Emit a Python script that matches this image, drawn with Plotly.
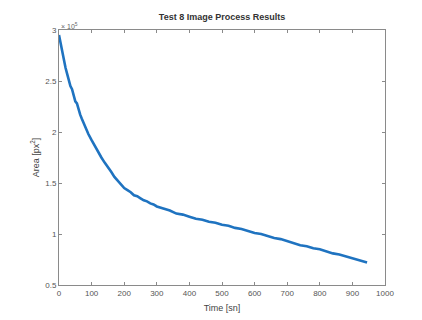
import plotly.graph_objects as go

time_s = [0, 5, 10, 15, 20, 25, 30, 35, 40, 45, 50, 55, 60, 65, 70, 75, 80, 90, 100,
          110, 120, 130, 140, 150, 160, 170, 180, 190, 200, 210, 220, 230, 240, 250,
          260, 270, 280, 290, 300, 320, 340, 360, 380, 400, 420, 440, 460, 480, 500,
          520, 540, 560, 580, 600, 620, 640, 660, 680, 700, 720, 740, 760, 780, 800,
          820, 840, 860, 880, 900, 920, 945]
area_e5 = [2.95, 2.86, 2.78, 2.70, 2.63, 2.57, 2.50, 2.45, 2.42, 2.36, 2.30, 2.28, 2.22,
           2.17, 2.13, 2.09, 2.05, 1.98, 1.92, 1.86, 1.81, 1.75, 1.70, 1.66, 1.61, 1.56,
           1.52, 1.49, 1.45, 1.43, 1.41, 1.38, 1.37, 1.35, 1.33, 1.32, 1.30, 1.29, 1.27,
           1.25, 1.23, 1.20, 1.19, 1.17, 1.15, 1.14, 1.12, 1.11, 1.09, 1.08, 1.06, 1.05,
           1.03, 1.01, 1.00, 0.98, 0.96, 0.95, 0.93, 0.91, 0.89, 0.88, 0.86, 0.85, 0.83,
           0.81, 0.80, 0.78, 0.76, 0.74, 0.72]

x_ticks = [0, 100, 200, 300, 400, 500, 600, 700, 800, 900, 1000]
y_ticks = [0.5, 1, 1.5, 2, 2.5, 3]
y_tick_labels = ["0.5", "1", "1.5", "2", "2.5", "3"]

font = "Liberation Sans, Arial, sans-serif"
fig = go.Figure()
fig.add_trace(go.Scatter(x=time_s, y=area_e5, mode="lines",
                         line=dict(color="#1f73c0", width=2.6), showlegend=False))

axis_common = dict(showline=True, linecolor="#8a8a8a", linewidth=1, mirror="ticks",
                   ticks="inside", ticklen=3, tickcolor="#8a8a8a", showgrid=False,
                   zeroline=False, automargin=False,
                   tickfont=dict(family=font, size=8, color="#555"))
fig.update_xaxes(range=[0, 1000], tickvals=x_ticks, **axis_common,
                 title=dict(text="Time [sn]", font=dict(family=font, size=9, color="#444"),
                            standoff=8))
fig.update_yaxes(range=[0.5, 3], tickvals=y_ticks, ticktext=y_tick_labels, **axis_common,
                 title=dict(text="Area [px<sup>2</sup>]",
                            font=dict(family=font, size=9, color="#444"), standoff=4))

fig.add_annotation(text="× 10<sup>5</sup>", xref="paper", yref="paper", x=0, y=1,
                   xanchor="left", yanchor="bottom", showarrow=False,
                   font=dict(family=font, size=7, color="#666"), yshift=-2)

fig.update_layout(
    width=414, height=312,
    margin=dict(l=51, r=37, t=22, b=35, autoexpand=False),
    paper_bgcolor="white", plot_bgcolor="white",
    title=dict(text="<b>Test 8 Image Process Results</b>", x=0.5, xref="paper",
               xanchor="center", y=1, yref="paper", yanchor="bottom",
               pad=dict(b=10), font=dict(family=font, size=9, color="#333"),
               automargin=False),
)
fig.write_html("out.html")
